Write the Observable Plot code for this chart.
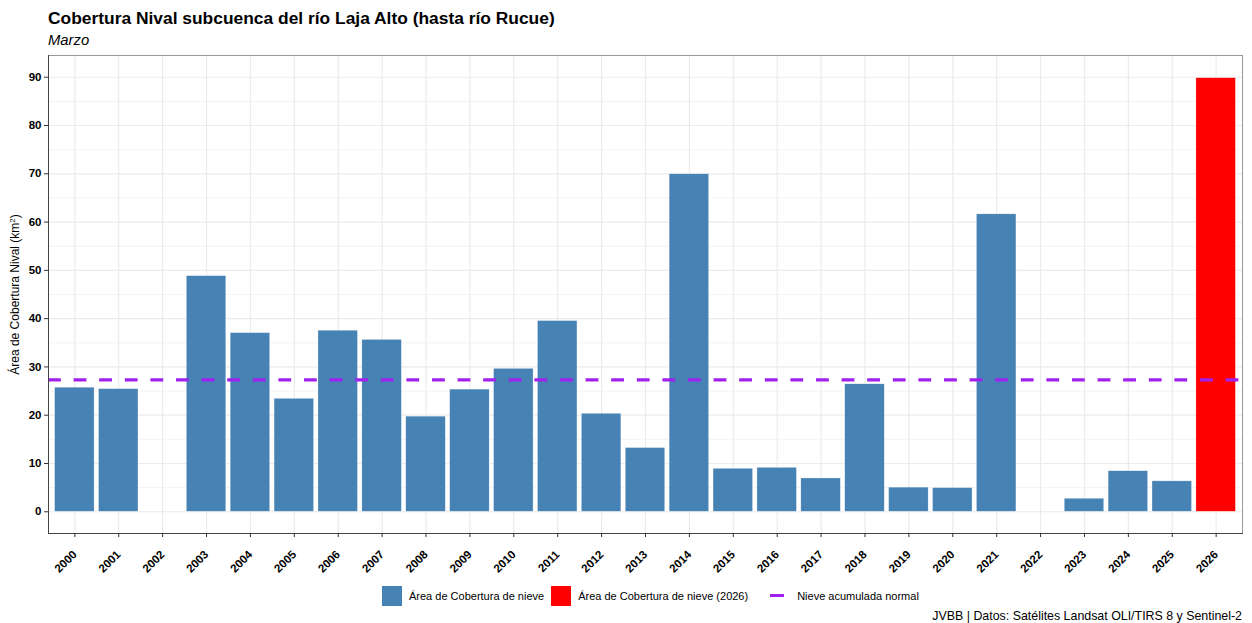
<!DOCTYPE html>
<html><head><meta charset="utf-8">
<script src="https://cdn.jsdelivr.net/npm/d3@7"></script>
<script src="https://cdn.jsdelivr.net/npm/@observablehq/plot@0.6"></script>
<style>
body{margin:0;background:#fff;font-family:"Liberation Sans",Arial,sans-serif;color:#000}
#wrap{position:relative;width:1252px;height:623px;overflow:hidden}
#title{position:absolute;left:48px;top:8px;font-weight:bold;font-size:17.4px;white-space:nowrap}
#subtitle{position:absolute;left:48px;top:32px;font-style:italic;font-size:14.8px}
#chart{position:absolute;left:0;top:50px}
#legend{position:absolute;top:585px;left:382px;display:flex;align-items:center;font-size:11px;height:21px}
.key{width:20px;height:20px;display:inline-block;margin-right:7px}
.item{display:flex;align-items:center;margin-right:7px}
.line{width:14px;height:3px;background:#A020F0;display:inline-block;margin:0 13px 0 15px}
#caption{position:absolute;right:10px;top:609px;font-size:12.4px;white-space:nowrap}
</style></head>
<body><div id="wrap">
<div id="title">Cobertura Nival subcuenca del río Laja Alto (hasta río Rucue)</div>
<div id="subtitle">Marzo</div>
<div id="chart"></div>
<div id="legend"></div>
<div id="caption">JVBB | Datos: Satélites Landsat OLI/TIRS 8 y Sentinel-2</div>
</div>
<script>
const years = ["2000","2001","2002","2003","2004","2005","2006","2007","2008","2009","2010","2011","2012","2013","2014","2015","2016","2017","2018","2019","2020","2021","2022","2023","2024","2025","2026"];
const area = [25.7,25.4,null,48.8,37.0,23.4,37.5,35.6,19.7,25.3,29.6,39.5,20.3,13.2,69.9,8.9,9.1,6.9,26.4,5.0,4.9,61.6,null,2.7,8.4,6.3,89.8];
const currentYear = "2026";
const normalValue = 27.3;
const yTicks = [0,10,20,30,40,50,60,70,80,90];
const yMinor = [5,15,25,35,45,55,65,75,85];
const seriesLabels = ["Área de Cobertura de nieve","Área de Cobertura de nieve (2026)","Nieve acumulada normal"];
const yLabel = "Área de Cobertura Nival (km2)";

const BLUE = "#4682B4", RED = "#FF0000", PURPLE = "#A020F0", GRID = "#EBEBEB";
const data = years.map((y, i) => ({year: y, area: area[i]}));

const chart = Plot.plot({
  width: 1252, height: 528,
  marginLeft: 48, marginRight: 10, marginTop: 5, marginBottom: 45,
  style: {fontFamily: "'Liberation Sans', Arial, sans-serif", fontSize: "11px", background: "#fff"},
  x: {type: "band", domain: years, paddingInner: 0.1, paddingOuter: 0.15, round: false, label: null},
  y: {domain: [-4.5, 94.5], label: null},
  marks: [
    Plot.ruleY(yMinor, {stroke: GRID, strokeWidth: 0.6, strokeOpacity: 1}),
    Plot.gridY(yTicks, {stroke: GRID, strokeWidth: 1.2, strokeOpacity: 1}),
    Plot.gridX(years, {stroke: GRID, strokeWidth: 1.2, strokeOpacity: 1}),
    Plot.barY(data, {x: "year", y: "area", fill: d => d.year === currentYear ? RED : BLUE, stroke: "#ffffff", strokeWidth: 0.5, strokeOpacity: 0.6}),
    Plot.ruleY([normalValue], {stroke: PURPLE, strokeWidth: 3.2, strokeDasharray: "12.8,12.8"}),
    Plot.frame({stroke: "#999", strokeWidth: 1}),
    Plot.frame({anchor: "left", stroke: "#444", strokeWidth: 1}),
    Plot.frame({anchor: "bottom", stroke: "#444", strokeWidth: 1}),
    Plot.axisY(yTicks, {tickSize: 4, tickPadding: 3, stroke: "#333", fill: "#000", fontWeight: "bold", fontSize: 11.5, label: yLabel, labelAnchor: "center", labelArrow: "none", labelOffset: 38}),
    Plot.axisX(years, {tickSize: 4, tickPadding: 15, stroke: "#333", fill: "#000", tickRotate: -45, fontWeight: "bold", fontSize: 11.5, label: null})
  ]
});
document.getElementById("chart").appendChild(chart);
chart.querySelectorAll("text").forEach(t => {
  if (t.textContent === yLabel) {
    t.setAttribute("font-weight", "normal"); t.setAttribute("font-size", 12);
    const tgt = t.querySelector("tspan") || t;
    tgt.textContent = "";
    const ns = "http://www.w3.org/2000/svg";
    const a = document.createElementNS(ns, "tspan"); a.textContent = "Área de Cobertura Nival (km";
    const b = document.createElementNS(ns, "tspan"); b.textContent = "2"; b.setAttribute("font-size", 8); b.setAttribute("dy", "-0.5em");
    const c = document.createElementNS(ns, "tspan"); c.textContent = ")"; c.setAttribute("dy", "0.33em");
    tgt.appendChild(a); tgt.appendChild(b); tgt.appendChild(c);
  }
});

const legend = document.getElementById("legend");
const colors = [BLUE, RED];
seriesLabels.forEach((lab, i) => {
  const it = document.createElement("div"); it.className = "item";
  const k = document.createElement("span");
  if (i < 2) { k.className = "key"; k.style.background = colors[i]; }
  else { k.className = "line"; }
  it.appendChild(k);
  const s = document.createElement("span"); s.textContent = lab; it.appendChild(s);
  legend.appendChild(it);
});
</script>
</body></html>
